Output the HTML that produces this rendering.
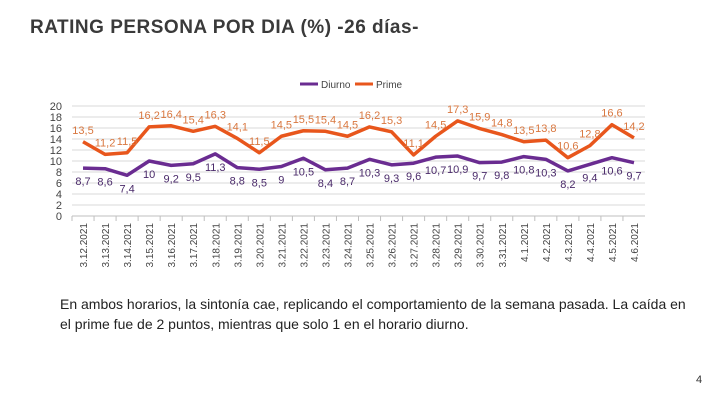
<!DOCTYPE html>
<html><head><meta charset="utf-8"><style>
body{margin:0;width:720px;height:405px;background:#fff;overflow:hidden;font-family:"Liberation Sans",sans-serif;}
svg{position:absolute;left:0;top:0}
.t{position:absolute;left:30px;top:17px;font-size:19px;font-weight:bold;color:#3a3a3a;letter-spacing:0.5px}
.p{position:absolute;left:60px;top:294px;width:640px;font-size:14px;line-height:20px;color:#222}
.n{position:absolute;left:696px;top:374px;font-size:11px;color:#333}
</style></head><body>
<div class="t">RATING PERSONA POR DIA (%) -26 días-</div>
<svg id="c" width="720" height="405"></svg>
<div class="p">En ambos horarios, la sintonía cae, replicando el comportamiento de la semana pasada. La caída en el prime fue de 2 puntos, mientras que solo 1 en el horario diurno.</div>
<div class="n">4</div>
<script>
const categories=["3.12.2021","3.13.2021","3.14.2021","3.15.2021","3.16.2021","3.17.2021","3.18.2021","3.19.2021","3.20.2021","3.21.2021","3.22.2021","3.23.2021","3.24.2021","3.25.2021","3.26.2021","3.27.2021","3.28.2021","3.29.2021","3.30.2021","3.31.2021","4.1.2021","4.2.2021","4.3.2021","4.4.2021","4.5.2021","4.6.2021"];
const diurno=[8.7,8.6,7.4,10,9.2,9.5,11.3,8.8,8.5,9,10.5,8.4,8.7,10.3,9.3,9.6,10.7,10.9,9.7,9.8,10.8,10.3,8.2,9.4,10.6,9.7];
const prime=[13.5,11.2,11.5,16.2,16.4,15.4,16.3,14.1,11.5,14.5,15.5,15.4,14.5,16.2,15.3,11.1,14.5,17.3,15.9,14.8,13.5,13.8,10.6,12.8,16.6,14.2];
const yTicks=[0,2,4,6,8,10,12,14,16,18,20];
const NS="http://www.w3.org/2000/svg",svg=document.getElementById('c');
const x0=72,x1=645,y0=216,y1=106,step=(x1-x0)/categories.length;
const X=i=>x0+step*(i+0.5), Y=v=>y0-(v/20)*(y0-y1);
function mk(t,a,p){const e=document.createElementNS(NS,t);for(const k in a)e.setAttribute(k,a[k]);(p||svg).appendChild(e);return e;}
yTicks.forEach(v=>{
const g=mk('line',{x1:x0,x2:x1,y1:Y(v),y2:Y(v),stroke:v?'#d9d9d9':'#bfbfbf','stroke-width':1});


const t=mk('text',{x:62,y:Y(v)+4,'text-anchor':'end','font-size':11,fill:'#444'});t.textContent=v;


});
categories.forEach((c,i)=>{
const tk=mk('line',{x1:x0+step*i,x2:x0+step*i,y1:y0,y2:y0+5,stroke:'#bfbfbf'});


const t=mk('text',{x:0,y:0,'text-anchor':'end','font-size':10,fill:'#444',transform:`translate(${X(i)+4},${y0+7}) rotate(-90)`});
t.textContent=c;


});
function series(data,color,lblColor,above,name){
const l=mk('polyline',{points:data.map((v,i)=>X(i)+','+Y(v)).join(' '),fill:'none',stroke:color,'stroke-width':3.5,'stroke-linejoin':'round'});


data.forEach((v,i)=>{
const t=mk('text',{x:X(i),y:above?Y(v)-8:Y(v)+17,'text-anchor':'middle','font-size':11,fill:lblColor});
t.textContent=String(v).replace('.',',');


});
}
series(prime,'#e8561c','#d9773f',true,'prime');
series(diurno,'#6a2c91','#4a2a6a',false,'diurno');
[[300,'#6a2c91','Diurno'],[355,'#e8561c','Prime']].forEach(([lx,c,n])=>{
const l=mk('line',{x1:lx,x2:lx+18,y1:84,y2:84,stroke:c,'stroke-width':3});


const t=mk('text',{x:lx+21,y:88,'font-size':10,fill:'#444'});t.textContent=n;


});
</script>
</body></html>
